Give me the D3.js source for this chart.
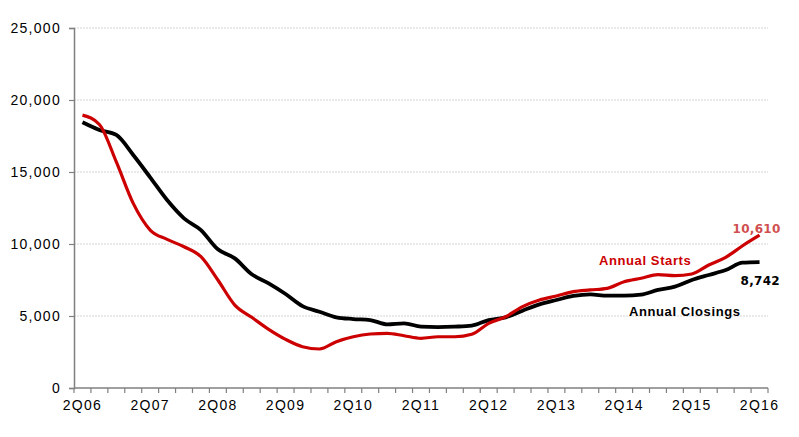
<!DOCTYPE html>
<html>
<head>
<meta charset="utf-8">
<script src="https://d3js.org/d3.v7.min.js"></script>
<style>
  body { margin: 0; background: #fff; }
  svg text { font-family: "Liberation Sans", Arial, sans-serif; }
</style>
</head>
<body>
<svg id="chart" width="799" height="437"></svg>
<script>
// quarters 2Q06 .. 2Q16
var quarters = [];
for (var yr = 6; yr <= 16; yr++) {
  for (var q = 1; q <= 4; q++) {
    if (yr === 6 && q < 2) continue;
    if (yr === 16 && q > 2) continue;
    quarters.push(q + "Q" + (yr < 10 ? "0" + yr : yr));
  }
}

var yTicks = [0, 5000, 10000, 15000, 20000, 25000];
var xTickLabels = ["2Q06","2Q07","2Q08","2Q09","2Q10","2Q11","2Q12","2Q13","2Q14","2Q15","2Q16"];

var annualStarts = [18950, 18300, 15700, 12820, 10970, 10320, 9810, 9120, 7500, 5760,
  4910, 4076, 3380, 2870, 2710, 3220, 3560, 3750, 3800, 3630,
  3450, 3560, 3560, 3730, 4490, 4950, 5650, 6110, 6390, 6690,
  6810, 6920, 7380, 7620, 7870, 7800, 7920, 8540, 9070, 9880, 10610];

var annualClosings = [18450, 17920, 17570, 16180, 14630, 13050, 11780, 10970, 9630, 9000,
  7900, 7270, 6530, 5690, 5300, 4910, 4790, 4720, 4420, 4490,
  4260, 4230, 4260, 4330, 4720, 4910, 5370, 5810, 6110, 6390,
  6500, 6410, 6410, 6480, 6810, 7040, 7500, 7850, 8190, 8700, 8742];

var svg = d3.select("#chart");
var plotL = 74, plotR = 768, plotT = 28, plotB = 388;

var x = d3.scaleBand().domain(quarters).range([plotL, plotR]);
var y = d3.scaleLinear().domain([0, 25000]).range([plotB, plotT]);
var cx = function(d, i) { return x(quarters[i]) + x.bandwidth() / 2; };

// gridlines
svg.append("g").selectAll("line")
  .data(yTicks.filter(function(d) { return d > 0; }))
  .enter().append("line")
  .attr("x1", plotL).attr("x2", plotR)
  .attr("y1", function(d) { return y(d); })
  .attr("y2", function(d) { return y(d); })
  .attr("stroke", "#d4d4d4")
  .attr("stroke-width", 1)
  .attr("stroke-dasharray", "2,1");

// y axis
var yAxis = svg.append("g")
  .attr("transform", "translate(" + plotL + ",0)")
  .call(d3.axisLeft(y).tickValues(yTicks).tickSize(5).tickPadding(8)
    .tickFormat(d3.format(",")));
yAxis.selectAll("text")
  .style("font-size", "14px")
  .style("letter-spacing", "1.3px")
  .attr("fill", "#000");
yAxis.select(".domain").attr("stroke", "#808080").attr("stroke-width", 1.5);
yAxis.selectAll(".tick line").attr("stroke", "#808080").attr("stroke-width", 1.2);

// x axis (ticks between quarters)
var xAxis = svg.append("g")
  .attr("transform", "translate(0," + plotB + ")");
xAxis.append("line")
  .attr("x1", plotL).attr("x2", plotR)
  .attr("stroke", "#808080").attr("stroke-width", 1.5);
xAxis.selectAll(".qt")
  .data(quarters.concat(["end"]))
  .enter().append("line")
  .attr("class", "qt")
  .attr("x1", function(d, i) { return plotL + i * x.step(); })
  .attr("x2", function(d, i) { return plotL + i * x.step(); })
  .attr("y1", 0).attr("y2", 5)
  .attr("stroke", "#808080").attr("stroke-width", 1.2);
xAxis.selectAll(".ql")
  .data(xTickLabels)
  .enter().append("text")
  .attr("x", function(d) { return x(d) + x.bandwidth() / 2; })
  .attr("y", 22)
  .attr("text-anchor", "middle")
  .style("font-size", "14px")
  .style("letter-spacing", "1.3px")
  .attr("fill", "#000")
  .text(function(d) { return d; });

var line = d3.line()
  .x(cx)
  .y(function(d) { return y(d); })
  .curve(d3.curveMonotoneX);

svg.append("path")
  .datum(annualClosings)
  .attr("fill", "none")
  .attr("stroke", "#000")
  .attr("stroke-width", 3.8)
  .attr("d", line);

svg.append("path")
  .datum(annualStarts)
  .attr("fill", "none")
  .attr("stroke", "#cc0000")
  .attr("stroke-width", 3.2)
  .attr("d", line);

// labels
var lastX = cx(null, quarters.length - 1);
svg.append("text")
  .attr("x", 599).attr("y", 265)
  .style("font-size", "13px").style("font-weight", "bold")
  .style("letter-spacing", "0.6px")
  .attr("fill", "#cc0000")
  .text("Annual Starts");
svg.append("text")
  .attr("x", 629).attr("y", 316)
  .style("font-size", "13px").style("font-weight", "bold")
  .style("letter-spacing", "0.6px")
  .attr("fill", "#000")
  .text("Annual Closings");
svg.append("text")
  .attr("x", lastX - 27).attr("y", 233)
  .style("font-family", "'DejaVu Sans', Verdana, sans-serif")
  .style("font-size", "12px").style("font-weight", "bold")
  .style("letter-spacing", "0.3px")
  .attr("fill", "#d05050")
  .text(d3.format(",")(annualStarts[annualStarts.length - 1]));
svg.append("text")
  .attr("x", lastX - 19).attr("y", 285)
  .style("font-family", "'DejaVu Sans', Verdana, sans-serif")
  .style("font-size", "12px").style("font-weight", "bold")
  .style("letter-spacing", "0.3px")
  .attr("fill", "#000")
  .text(d3.format(",")(annualClosings[annualClosings.length - 1]));
</script>
</body>
</html>
